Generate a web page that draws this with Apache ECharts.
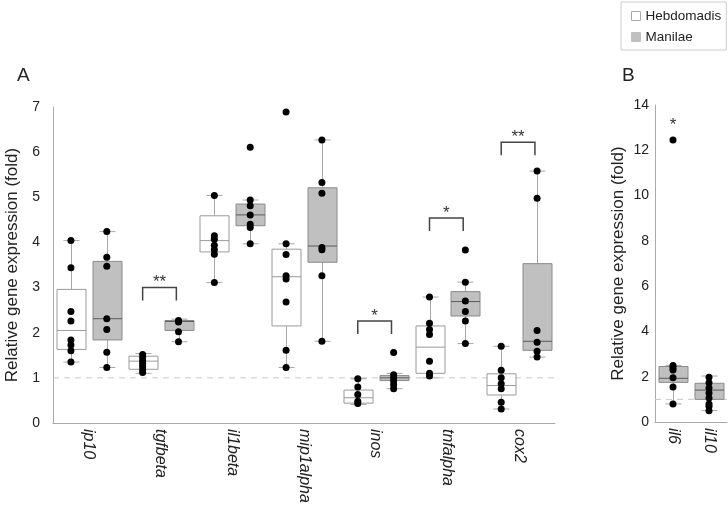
<!DOCTYPE html>
<html><head><meta charset="utf-8">
<script src="https://cdn.jsdelivr.net/npm/echarts@6/dist/echarts.min.js"></script>
<style>html,body{margin:0;padding:0;background:#fff}#chart{width:728px;height:513px}</style>
</head><body><div id="chart"></div>
<script>
// ---------- DATA ----------
const categoriesA = ['ip10', 'tgfbeta', 'il1beta', 'mip1alpha', 'inos', 'tnfalpha', 'cox2'];
const categoriesB = ['il6', 'il10'];
const seriesNames = ['Hebdomadis', 'Manilae'];
const ticksA = [0, 7, 1];   // min, max, interval
const ticksB = [0, 14, 2];
const refLevel = 1;

// box stats: [min, Q1, median, Q3, max]
const hebdomadisBoxA = [
  [1.35, 1.63, 2.05, 2.96, 4.04],
  [1.10, 1.19, 1.37, 1.48, 1.54],
  [3.11, 3.79, 4.04, 4.59, 5.04],
  [1.23, 2.15, 3.24, 3.85, 3.97],
  [0.41, 0.44, 0.56, 0.73, 0.98],
  [1.00, 1.10, 1.68, 2.15, 2.79],
  [0.31, 0.62, 0.83, 1.09, 1.70]
];
const manilaeBoxA = [
  [1.23, 1.84, 2.31, 3.58, 4.24],
  [1.80, 2.05, 2.25, 2.27, 2.30],
  [3.97, 4.37, 4.61, 4.85, 4.94],
  [1.81, 3.56, 3.92, 5.21, 6.27],
  [0.76, 0.94, 1.00, 1.05, 1.10],
  [1.76, 2.37, 2.69, 2.91, 3.12],
  [1.46, 1.61, 1.81, 3.53, 5.58]
];
const hebdomadisPointsA = [
  [4.04, 3.44, 2.47, 2.26, 1.84, 1.73, 1.60, 1.35],
  [1.52, 1.45, 1.38, 1.32, 1.25, 1.18, 1.12],
  [5.04, 4.15, 4.07, 3.94, 3.84, 3.74, 3.11],
  [6.89, 3.97, 3.73, 3.26, 3.19, 2.68, 1.61, 1.23],
  [0.98, 0.80, 0.63, 0.48, 0.43],
  [2.79, 2.21, 2.07, 1.96, 1.37, 1.10, 1.04],
  [1.70, 1.17, 1.00, 0.87, 0.76, 0.46, 0.31]
];
const manilaePointsA = [
  [4.24, 3.67, 3.47, 2.31, 2.07, 1.57, 1.23],
  [2.27, 2.24, 2.02, 1.80],
  [6.11, 4.94, 4.81, 4.61, 4.40, 4.33, 3.97],
  [6.27, 5.33, 5.09, 3.89, 3.84, 3.26, 1.81],
  [1.56, 1.07, 1.00, 0.93, 0.85, 0.76],
  [3.83, 3.12, 2.70, 2.47, 2.26, 1.76],
  [5.58, 4.98, 2.05, 1.79, 1.59, 1.46]
];
const manilaeBoxB = [
  [0.80, 1.75, 1.93, 2.45, 2.50],
  [0.50, 1.00, 1.41, 1.71, 2.03]
];
const manilaePointsB = [
  [12.45, 2.50, 2.40, 2.30, 1.95, 1.55, 0.80],
  [1.98, 1.73, 1.50, 1.28, 1.06, 0.80, 0.70, 0.50]
];
// significance: category index, bracket level, label
const sigCatsA = [1, 4, 5, 6];
const sigLevelsA = [3.0, 2.26, 4.54, 6.22];
const sigLabelsA = ['**', '*', '*', '**'];
const sigCatsB = [0];
const sigLevelsB = [13.1];
const sigLabelsB = ['*'];

// ---------- BUILD ----------
const FONT = 'Liberation Sans, Arial, Helvetica, sans-serif';
const OFF = 0.25;

function boxItems(stats, offset) {
  return stats.map((s, i) => [i + offset].concat(s));
}
function pointItems(points, offset) {
  const out = [];
  points.forEach((arr, i) => arr.forEach(v => out.push([i + offset, v])));
  return out;
}
function boxRender(st) {
  return function (params, api) {
    const x = api.value(0);
    const pMin = api.coord([x, api.value(1)]);
    const pQ1 = api.coord([x, api.value(2)]);
    const pMed = api.coord([x, api.value(3)]);
    const pQ3 = api.coord([x, api.value(4)]);
    const pMax = api.coord([x, api.value(5)]);
    const cx = Math.round(pMin[0]) + 0.5;
    const hw = 14.5, cap = 8;
    const wl = {stroke: st.whisker, lineWidth: 1};
    return {type: 'group', children: [
      {type: 'line', shape: {x1: cx, y1: pMax[1], x2: cx, y2: pQ3[1]}, style: wl},
      {type: 'line', shape: {x1: cx, y1: pQ1[1], x2: cx, y2: pMin[1]}, style: wl},
      {type: 'line', shape: {x1: cx - cap, y1: pMax[1], x2: cx + cap, y2: pMax[1]}, style: wl},
      {type: 'line', shape: {x1: cx - cap, y1: pMin[1], x2: cx + cap, y2: pMin[1]}, style: wl},
      {type: 'rect', shape: {x: cx - hw, y: pQ3[1], width: 2 * hw, height: pQ1[1] - pQ3[1]},
        style: {fill: st.fill, stroke: st.stroke, lineWidth: 1}},
      {type: 'line', shape: {x1: cx - hw, y1: pMed[1], x2: cx + hw, y2: pMed[1]},
        style: {stroke: st.median, lineWidth: 1}}
    ]};
  };
}
function sigRender(withBracket) {
  return function (params, api) {
    const y = api.value(2);
    const a = api.coord([api.value(0), y]);
    const b = api.coord([api.value(1), y]);
    const leg = 13;
    const children = [];
    if (withBracket) {
      children.push({type: 'polyline', shape: {points: [[a[0], a[1] + leg], [a[0], a[1]], [b[0], b[1]], [b[0], b[1] + leg]]},
        style: {stroke: '#444', lineWidth: 1.5, fill: null}});
    }
    children.push({type: 'text', x: (a[0] + b[0]) / 2, y: a[1] - (withBracket ? 5 : 0),
      style: {text: api.value(3), fill: '#333', font: '17px ' + FONT, align: 'center', verticalAlign: 'middle'}});
    return {type: 'group', children: children};
  };
}

const whiteStyle = {fill: '#ffffff', stroke: '#9a9a9a', median: '#9a9a9a', whisker: '#a8a8a8'};
const greyStyle = {fill: '#c0c0c0', stroke: '#8a8a8a', median: '#5a5a5a', whisker: '#a8a8a8'};

const sigDataA = sigCatsA.map((c, i) => [c - OFF, c + 0.22, sigLevelsA[i], sigLabelsA[i]]);
const sigDataB = sigCatsB.map((c, i) => [c, c, sigLevelsB[i], sigLabelsB[i]]);

const yAxisCommon = {
  type: 'value', axisTick: {show: false}, splitLine: {show: false},
  axisLine: {show: true, onZero: false, lineStyle: {color: '#aaaaaa', width: 1}},
  axisLabel: {fontSize: 14, color: '#222', fontFamily: FONT},
  name: 'Relative gene expression (fold)', nameLocation: 'middle',
  nameTextStyle: {fontSize: 17, color: '#222', fontFamily: FONT}
};
const xCatCommon = {
  type: 'category', axisTick: {show: false},
  axisLine: {show: true, onZero: false, lineStyle: {color: '#aaaaaa', width: 1}},
  axisLabel: {rotate: -90, fontStyle: 'italic', fontSize: 16, color: '#222', margin: 6, fontFamily: FONT, interval: 0}
};

const option = {
  animation: false,
  backgroundColor: '#fff',
  title: [
    {text: 'A', left: 17, top: 66, padding: 0, textStyle: {fontSize: 19, fontWeight: 'normal', color: '#222', fontFamily: FONT}},
    {text: 'B', left: 622, top: 66, padding: 0, textStyle: {fontSize: 19, fontWeight: 'normal', color: '#222', fontFamily: FONT}}
  ],
  legend: {
    orient: 'vertical', left: 621, top: 2, selectedMode: false,
    data: [
      {name: seriesNames[0], icon: 'rect', itemStyle: {color: '#fff', borderColor: '#aaa', borderWidth: 1}},
      {name: seriesNames[1], icon: 'rect', itemStyle: {color: '#c0c0c0', borderColor: '#c0c0c0', borderWidth: 1}}
    ],
    itemWidth: 9, itemHeight: 9, itemGap: 7, itemTextGap: 5,
    borderColor: '#cccccc', borderWidth: 1, padding: [7, 5, 6, 10],
    textStyle: {fontSize: 13.5, color: '#222', fontFamily: FONT}
  },
  grid: [
    {left: 53, right: 173, top: 107, bottom: 90, outerBoundsMode: 'none', containLabel: false},
    {left: 655, right: 1, top: 105, bottom: 91, outerBoundsMode: 'none', containLabel: false}
  ],
  xAxis: [
    Object.assign({gridIndex: 0, data: categoriesA}, xCatCommon),
    {type: 'value', gridIndex: 0, min: -0.5, max: categoriesA.length - 0.5, show: false},
    Object.assign({gridIndex: 1, data: categoriesB}, xCatCommon),
    {type: 'value', gridIndex: 1, min: -0.5, max: categoriesB.length - 0.5, show: false}
  ],
  yAxis: [
    Object.assign({}, yAxisCommon, {gridIndex: 0, min: ticksA[0], max: ticksA[1], interval: ticksA[2], nameGap: 32,
      axisLabel: Object.assign({}, yAxisCommon.axisLabel, {margin: 13})}),
    Object.assign({}, yAxisCommon, {gridIndex: 1, min: ticksB[0], max: ticksB[1], interval: ticksB[2], nameGap: 28,
      axisLabel: Object.assign({}, yAxisCommon.axisLabel, {margin: 6})})
  ],
  series: [
    {type: 'line', name: 'refA', xAxisIndex: 1, yAxisIndex: 0, z: 1, symbol: 'none', silent: true,
      data: [[-0.5, refLevel], [categoriesA.length - 0.5, refLevel]],
      lineStyle: {color: '#c8c8c8', width: 1, type: [6, 5]}},
    {type: 'line', name: 'refB', xAxisIndex: 3, yAxisIndex: 1, z: 1, symbol: 'none', silent: true,
      data: [[-0.5, refLevel], [categoriesB.length - 0.5, refLevel]],
      lineStyle: {color: '#c8c8c8', width: 1, type: [6, 5]}},
    {type: 'custom', name: seriesNames[0], xAxisIndex: 1, yAxisIndex: 0, z: 2,
      itemStyle: {color: '#fff', borderColor: '#aaa'},
      encode: {x: 0, y: [1, 2, 3, 4, 5]}, renderItem: boxRender(whiteStyle), data: boxItems(hebdomadisBoxA, -OFF)},
    {type: 'custom', name: seriesNames[1], xAxisIndex: 1, yAxisIndex: 0, z: 2,
      itemStyle: {color: '#c0c0c0'},
      encode: {x: 0, y: [1, 2, 3, 4, 5]}, renderItem: boxRender(greyStyle), data: boxItems(manilaeBoxA, OFF)},
    {type: 'custom', name: seriesNames[1], xAxisIndex: 3, yAxisIndex: 1, z: 2,
      itemStyle: {color: '#c0c0c0'},
      encode: {x: 0, y: [1, 2, 3, 4, 5]}, renderItem: boxRender(greyStyle), data: boxItems(manilaeBoxB, 0)},
    {type: 'scatter', name: 'ptsH', xAxisIndex: 1, yAxisIndex: 0, z: 5, symbolSize: 7,
      itemStyle: {color: '#000', opacity: 1}, data: pointItems(hebdomadisPointsA, -OFF)},
    {type: 'scatter', name: 'ptsM', xAxisIndex: 1, yAxisIndex: 0, z: 5, symbolSize: 7,
      itemStyle: {color: '#000', opacity: 1}, data: pointItems(manilaePointsA, OFF)},
    {type: 'scatter', name: 'ptsB', xAxisIndex: 3, yAxisIndex: 1, z: 5, symbolSize: 7,
      itemStyle: {color: '#000', opacity: 1}, data: pointItems(manilaePointsB, 0)},
    {type: 'custom', name: 'sigA', xAxisIndex: 1, yAxisIndex: 0, z: 6, silent: true,
      encode: {x: [0, 1], y: 2}, renderItem: sigRender(true), data: sigDataA},
    {type: 'custom', name: 'sigB', xAxisIndex: 3, yAxisIndex: 1, z: 6, silent: true,
      encode: {x: [0, 1], y: 2}, renderItem: sigRender(false), data: sigDataB}
  ]
};
const chart = echarts.init(document.getElementById('chart'));
chart.setOption(option);
</script>
</body></html>
